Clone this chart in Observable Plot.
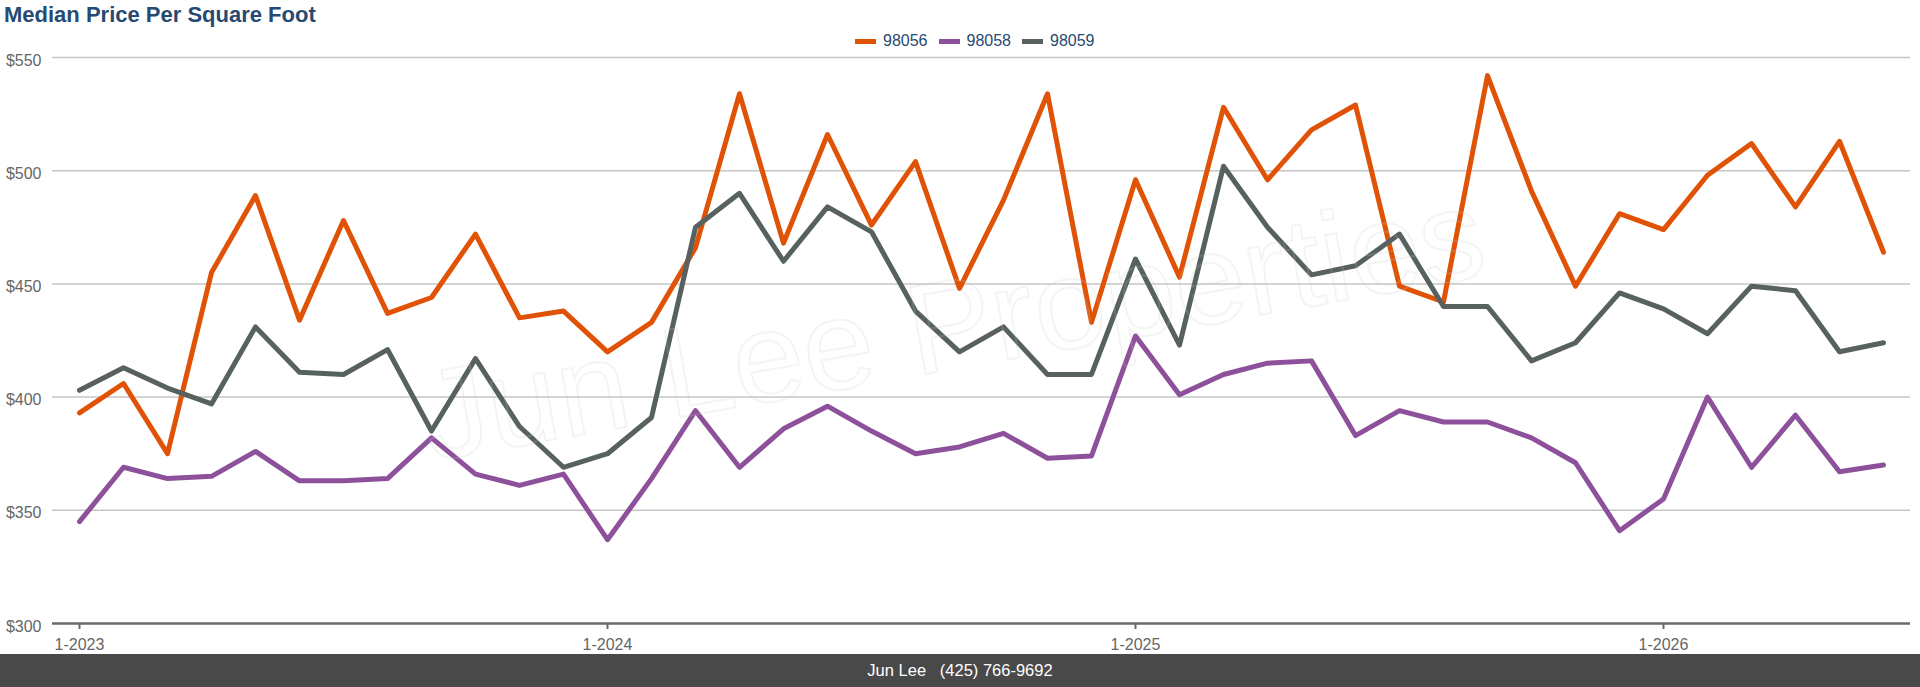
<!DOCTYPE html>
<html>
<head>
<meta charset="utf-8">
<script src="https://cdn.jsdelivr.net/npm/d3@7"></script>
<script src="https://cdn.jsdelivr.net/npm/@observablehq/plot@0.6"></script>
<style>
  html, body { margin: 0; padding: 0; background: #fff; width: 1920px; height: 687px; overflow: hidden;
    font-family: "Liberation Sans", Arial, sans-serif; }
  #wrap { position: relative; width: 1920px; height: 687px; }
  #chart { position: absolute; left: 0; top: 0; }
  #title { position: absolute; left: 4px; top: 4px; font-size: 22px; line-height: 22px; font-weight: bold;
    color: #274a72; white-space: nowrap; }
  #legend { position: absolute; left: 855px; top: 32px; height: 18px; display: flex; align-items: center; }
  .item { display: flex; align-items: center; margin-right: 11px; font-size: 16px; line-height: 18px; color: #274a72; }
  .sw { width: 21px; height: 5px; margin-right: 7px; }
  #footer { position: absolute; left: 0; top: 654px; width: 1920px; height: 33px; background: #494949;
    color: #fff; font-size: 16.5px; line-height: 33px; text-align: center; white-space: pre; }
</style>
</head>
<body>
<div id="wrap">
  <div id="chart"></div>
  <div id="title"></div>
  <div id="legend"></div>
  <div id="footer"></div>
</div>
<script>
// ---- data ----
const titleText = "Median Price Per Square Foot";
const footerText = "Jun Lee   (425) 766-9692";
const watermarkText = "Jun Lee Properties";

const months = [
  "2023-01","2023-02","2023-03","2023-04","2023-05","2023-06","2023-07","2023-08","2023-09","2023-10","2023-11","2023-12",
  "2024-01","2024-02","2024-03","2024-04","2024-05","2024-06","2024-07","2024-08","2024-09","2024-10","2024-11","2024-12",
  "2025-01","2025-02","2025-03","2025-04","2025-05","2025-06","2025-07","2025-08","2025-09","2025-10","2025-11","2025-12",
  "2026-01","2026-02","2026-03","2026-04","2026-05","2026-06"
];

const seriesNames = ["98056", "98058", "98059"];
const seriesColors = ["#e05307", "#8d519b", "#566160"];

const v98056 = [393,406,375,455,489,434,478,437,444,472,435,438,420,433,466,534,468,516,476,504,448,
                487,534,433,496,453,528,496,518,529,449,442,542,491,449,481,474,498,512,484,513,464];
const v98058 = [345,369,364,365,376,363,363,364,382,366,361,366,337,364,394,369,386,396,385,375,378,
                384,373,374,427,401,410,415,416,383,394,389,389,382,371,341,355,400,369,392,367,370];
const v98059 = [403,413,404,397,431,411,410,421,385,417,387,369,375,391,475,490,460,484,473,438,420,
                431,410,410,461,423,502,475,454,458,472,440,440,416,424,446,439,428,449,447,420,424];

const yTicks = [300, 350, 400, 450, 500, 550];
const yGrid = [350, 400, 450, 500, 550];
const xTickMonths = ["2023-01", "2024-01", "2025-01", "2026-01"];
const xTickLabels = ["1-2023", "1-2024", "1-2025", "1-2026"];

// ---- build table ----
const seriesValues = [v98056, v98058, v98059];
const rows = [];
seriesNames.forEach((name, s) => {
  seriesValues[s].forEach((v, i) => rows.push({ zip: name, month: months[i], value: v }));
});

// ---- title, legend, footer ----
document.getElementById("title").textContent = titleText;
document.getElementById("footer").textContent = footerText;
const legend = document.getElementById("legend");
seriesNames.forEach((name, s) => {
  const it = document.createElement("div");
  it.className = "item";
  const sw = document.createElement("div");
  sw.className = "sw";
  sw.style.background = seriesColors[s];
  const tx = document.createElement("span");
  tx.textContent = name;
  it.appendChild(sw); it.appendChild(tx);
  legend.appendChild(it);
});

// ---- chart ----
const font = '"Liberation Sans", Arial, sans-serif';
const lineMarks = seriesNames.map((name, s) =>
  Plot.lineY(rows.filter(r => r.zip === name), {
    x: "month", y: "value", stroke: seriesColors[s], strokeWidth: 5,
    strokeLinejoin: "round", strokeLinecap: "round"
  })
);

const chart = Plot.plot({
  width: 1920,
  height: 654,
  marginLeft: 52,
  marginRight: 10,
  marginTop: 57,
  marginBottom: 31,
  style: { fontFamily: font, fontSize: "16px", background: "transparent", overflow: "visible" },
  x: { type: "point", domain: months, padding: 0.5, align: 0.5, label: null },
  y: { domain: [300, 550], label: null },
  marks: [
    Plot.ruleY(yGrid, { stroke: "#c6c6c6", strokeWidth: 1.5 }),
    Plot.axisY({ ticks: yTicks, tickSize: 0, tickPadding: 11, tickFormat: d => "$" + d,
      fill: "#666", dy: 3, label: null, fontSize: 16 }),
    Plot.axisX({ ticks: xTickMonths, tickSize: 6, tickPadding: 9,
      tickFormat: d => xTickLabels[xTickMonths.indexOf(d)],
      stroke: "#6b6b6b", strokeWidth: 2, fill: "#666", label: null, fontSize: 16 }),
    Plot.ruleY([300], { stroke: "#6b6b6b", strokeWidth: 2.5 }),
    ...lineMarks,
    Plot.text([watermarkText], {
      text: d => d, frameAnchor: "middle", textAnchor: "middle", lineAnchor: "middle",
      rotate: -10, fontSize: 128, fill: "none", stroke: "#c8c8c8", strokeOpacity: 0.2,
      strokeWidth: 2, dx: -28, dy: -13
    })
  ]
});
document.getElementById("chart").appendChild(chart);
</script>
</body>
</html>
